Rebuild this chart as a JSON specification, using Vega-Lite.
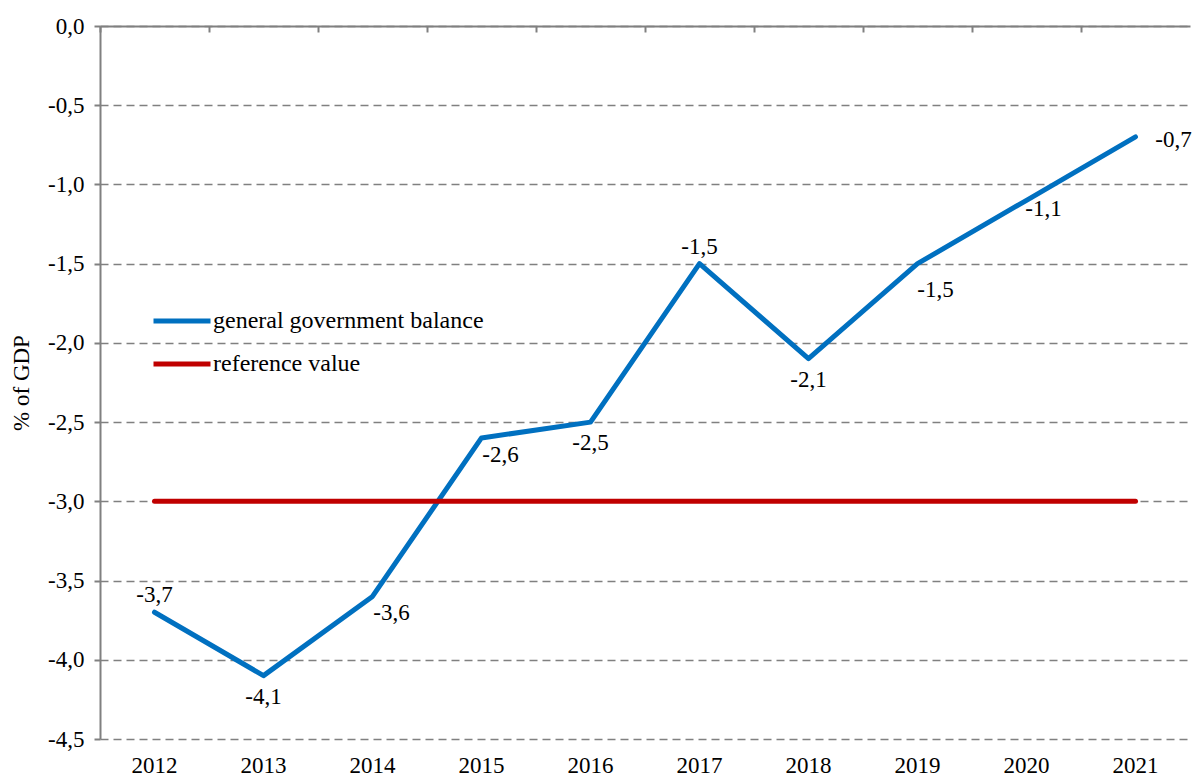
{
  "$schema": "https://vega.github.io/schema/vega-lite/v6.json",
  "autosize": {"type": "none"},
  "padding": {"left": 100, "top": 26, "right": 7, "bottom": 39},
  "width": 1090,
  "height": 713,
  "background": "white",
  "config": {
    "view": {"stroke": null},
    "font": "Liberation Serif",
    "locale": {
      "number": {"decimal": ",", "thousands": ".", "grouping": [3], "currency": ["", " €"], "minus": "-"}
    }
  },
  "datasets": {
    "balance": [
      {"year": "2012", "series": "general government balance", "value": -3.7},
      {"year": "2013", "series": "general government balance", "value": -4.1},
      {"year": "2014", "series": "general government balance", "value": -3.6},
      {"year": "2015", "series": "general government balance", "value": -2.6},
      {"year": "2016", "series": "general government balance", "value": -2.5},
      {"year": "2017", "series": "general government balance", "value": -1.5},
      {"year": "2018", "series": "general government balance", "value": -2.1},
      {"year": "2019", "series": "general government balance", "value": -1.5},
      {"year": "2020", "series": "general government balance", "value": -1.1},
      {"year": "2021", "series": "general government balance", "value": -0.7},
      {"year": "2012", "series": "reference value", "value": -3.0},
      {"year": "2013", "series": "reference value", "value": -3.0},
      {"year": "2014", "series": "reference value", "value": -3.0},
      {"year": "2015", "series": "reference value", "value": -3.0},
      {"year": "2016", "series": "reference value", "value": -3.0},
      {"year": "2017", "series": "reference value", "value": -3.0},
      {"year": "2018", "series": "reference value", "value": -3.0},
      {"year": "2019", "series": "reference value", "value": -3.0},
      {"year": "2020", "series": "reference value", "value": -3.0},
      {"year": "2021", "series": "reference value", "value": -3.0}
    ]
  },
  "data": {"name": "balance"},
  "resolve": {"axis": {"x": "independent"}},
  "layer": [
    {
      "layer": [
        {
          "mark": {"type": "line", "strokeWidth": 5, "strokeCap": "round", "strokeJoin": "round"},
          "encoding": {
            "x": {
              "field": "year", "type": "ordinal",
              "scale": {"type": "band", "paddingInner": 0, "paddingOuter": 0},
              "axis": {
                "orient": "bottom", "title": null, "domain": false, "ticks": false, "grid": false,
                "labelAngle": 0, "labelFont": "Liberation Serif", "labelFontSize": 23,
                "labelColor": "#000000", "labelPadding": 15
              }
            },
            "y": {
              "field": "value", "type": "quantitative",
              "scale": {"domain": [-4.5, 0], "nice": false, "zero": false},
              "axis": {
                "values": [0, -0.5, -1, -1.5, -2, -2.5, -3, -3.5, -4, -4.5],
                "format": ".1f",
                "title": "% of GDP",
                "titleFont": "Liberation Serif", "titleFontSize": 23, "titleFontWeight": "normal",
                "titleColor": "#000000", "titlePadding": 14,
                "labelFont": "Liberation Serif", "labelFontSize": 23, "labelColor": "#000000",
                "labelPadding": 10,
                "domain": true, "domainColor": "#808080", "domainWidth": 2,
                "ticks": true, "tickColor": "#808080", "tickSize": 6, "tickWidth": 2,
                "grid": true, "gridColor": "#808080", "gridWidth": 1.5, "gridDash": [8, 5]
              }
            },
            "color": {
              "field": "series", "type": "nominal",
              "scale": {"domain": ["general government balance", "reference value"], "range": ["#0070C0", "#C00000"]},
              "legend": {
                "title": null, "orient": "none", "legendX": 51, "legendY": 264,
                "symbolType": "stroke", "symbolSize": 3249, "symbolStrokeWidth": 5,
                "labelFont": "Liberation Serif", "labelFontSize": 24, "labelColor": "#000000",
                "labelLimit": 500, "labelOffset": 0, "rowPadding": -9, "padding": 0
              }
            },
            "detail": {"field": "series"}
          }
        },
        {
          "transform": [{"filter": "datum.series === 'general government balance' && (datum.year === '2012' || datum.year === '2017')"}],
          "mark": {"type": "text", "fontSize": 23, "font": "Liberation Serif", "color": "#000000", "dy": -17},
          "encoding": {
            "x": {"field": "year", "type": "ordinal"},
            "y": {"field": "value", "type": "quantitative"},
            "text": {"field": "value", "type": "quantitative", "format": ".1f"}
          }
        },
        {
          "transform": [{"filter": "datum.series === 'general government balance' && (datum.year === '2013' || datum.year === '2016' || datum.year === '2018')"}],
          "mark": {"type": "text", "fontSize": 23, "font": "Liberation Serif", "color": "#000000", "dy": 21},
          "encoding": {
            "x": {"field": "year", "type": "ordinal"},
            "y": {"field": "value", "type": "quantitative"},
            "text": {"field": "value", "type": "quantitative", "format": ".1f"}
          }
        },
        {
          "transform": [{"filter": "datum.series === 'general government balance' && (datum.year === '2014' || datum.year === '2015')"}],
          "mark": {"type": "text", "fontSize": 23, "font": "Liberation Serif", "color": "#000000", "dx": 19, "dy": 17},
          "encoding": {
            "x": {"field": "year", "type": "ordinal"},
            "y": {"field": "value", "type": "quantitative"},
            "text": {"field": "value", "type": "quantitative", "format": ".1f"}
          }
        },
        {
          "transform": [{"filter": "datum.series === 'general government balance' && datum.year === '2019'"}],
          "mark": {"type": "text", "fontSize": 23, "font": "Liberation Serif", "color": "#000000", "dx": 18, "dy": 26},
          "encoding": {
            "x": {"field": "year", "type": "ordinal"},
            "y": {"field": "value", "type": "quantitative"},
            "text": {"field": "value", "type": "quantitative", "format": ".1f"}
          }
        },
        {
          "transform": [{"filter": "datum.series === 'general government balance' && datum.year === '2020'"}],
          "mark": {"type": "text", "fontSize": 23, "font": "Liberation Serif", "color": "#000000", "dx": 17, "dy": 9},
          "encoding": {
            "x": {"field": "year", "type": "ordinal"},
            "y": {"field": "value", "type": "quantitative"},
            "text": {"field": "value", "type": "quantitative", "format": ".1f"}
          }
        },
        {
          "transform": [{"filter": "datum.series === 'general government balance' && datum.year === '2021'"}],
          "mark": {"type": "text", "fontSize": 23, "font": "Liberation Serif", "color": "#000000", "dx": 38, "dy": 3},
          "encoding": {
            "x": {"field": "year", "type": "ordinal"},
            "y": {"field": "value", "type": "quantitative"},
            "text": {"field": "value", "type": "quantitative", "format": ".1f"}
          }
        }
      ]
    },
    {
      "mark": {"type": "line", "opacity": 0},
      "encoding": {
        "x": {
          "field": "year", "type": "ordinal",
          "axis": {
            "orient": "top", "title": null, "labels": false, "grid": false,
            "domain": true, "domainColor": "#808080", "domainWidth": 2,
            "ticks": true, "tickColor": "#808080", "tickWidth": 2, "tickSize": -6,
            "bandPosition": 0
          }
        },
        "y": {"field": "value", "type": "quantitative"},
        "detail": {"field": "series"}
      }
    }
  ]
}
